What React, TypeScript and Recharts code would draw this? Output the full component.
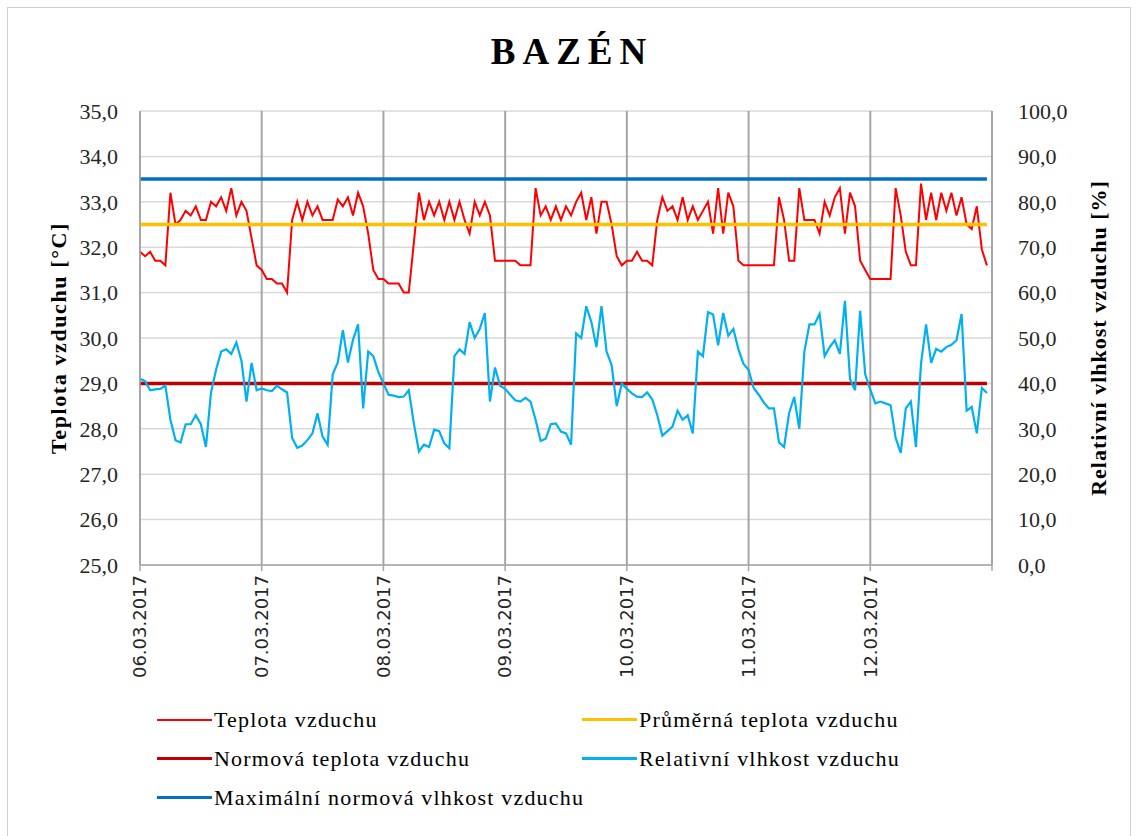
import { CartesianGrid, ComposedChart, Label, Line, XAxis, YAxis } from "recharts";

const dayLabels = ["06.03.2017", "07.03.2017", "08.03.2017", "09.03.2017", "10.03.2017", "11.03.2017", "12.03.2017"];

// hourly air temperature [°C], one array per day
const tempDay1 = [31.9, 31.8, 31.9, 31.7, 31.7, 31.6, 33.2, 32.5, 32.6, 32.8, 32.7, 32.9, 32.6, 32.6, 33.0, 32.9, 33.1, 32.8, 33.3, 32.7, 33.0, 32.8, 32.2, 31.6];
const tempDay2 = [31.5, 31.3, 31.3, 31.2, 31.2, 31.0, 32.6, 33.0, 32.6, 33.0, 32.7, 32.9, 32.6, 32.6, 32.6, 33.05, 32.9, 33.1, 32.7, 33.2, 32.9, 32.3, 31.5, 31.3];
const tempDay3 = [31.3, 31.2, 31.2, 31.2, 31.0, 31.0, 32.1, 33.2, 32.6, 33.0, 32.7, 33.0, 32.6, 33.0, 32.6, 33.0, 32.6, 32.3, 33.0, 32.7, 33.0, 32.7, 31.7, 31.7];
const tempDay4 = [31.7, 31.7, 31.7, 31.6, 31.6, 31.6, 33.3, 32.7, 32.9, 32.6, 32.9, 32.6, 32.9, 32.7, 33.0, 33.2, 32.6, 33.1, 32.3, 33.0, 33.0, 32.5, 31.8, 31.6];
const tempDay5 = [31.7, 31.7, 31.9, 31.7, 31.7, 31.6, 32.6, 33.1, 32.8, 32.9, 32.6, 33.1, 32.6, 32.9, 32.6, 32.8, 33.0, 32.3, 33.3, 32.3, 33.2, 32.9, 31.7, 31.6];
const tempDay6 = [31.6, 31.6, 31.6, 31.6, 31.6, 31.6, 33.1, 32.6, 31.7, 31.7, 33.3, 32.6, 32.6, 32.6, 32.3, 33.0, 32.7, 33.1, 33.3, 32.3, 33.2, 32.9, 31.7, 31.5];
const tempDay7 = [31.3, 31.3, 31.3, 31.3, 31.3, 33.3, 32.7, 31.9, 31.6, 31.6, 33.4, 32.6, 33.2, 32.6, 33.2, 32.8, 33.2, 32.7, 33.1, 32.5, 32.4, 32.9, 31.95, 31.6];

// hourly relative humidity [%]
const humDay1 = [41, 40.5, 38.5, 38.7, 38.8, 39.5, 32, 27.5, 27, 31, 31, 33, 31, 26, 38, 43, 47, 47.5, 46.5, 49, 45, 36, 44.5, 38.5];
const humDay2 = [38.9, 38.5, 38.3, 39.5, 38.7, 38.0, 28, 25.8, 26.3, 27.5, 29.0, 33.4, 28.3, 26.5, 42, 44.6, 51.7, 44.6, 49.6, 53, 34.5, 47, 46, 42.5];
const humDay3 = [40, 37.5, 37.3, 37, 37.1, 38.5, 31.2, 25, 26.5, 26, 29.8, 29.5, 26.8, 25.7, 46, 47.5, 46.5, 53.5, 50, 52, 55.5, 36, 43.5, 39.5];
const humDay4 = [38.8, 37.5, 36.3, 36, 36.8, 36, 32, 27.3, 27.8, 31, 31.2, 29.4, 29, 26.5, 51, 50, 57, 53.5, 48, 57, 47, 44, 35, 40];
const humDay5 = [38.8, 37.8, 37.1, 37, 38, 36.5, 33, 28.5, 29.5, 30.5, 34, 32, 33, 29, 47, 46, 55.7, 55.2, 48.4, 55.5, 50.5, 52, 47.5, 44.3];
const humDay6 = [43, 39, 37.5, 35.8, 34.5, 34.5, 27, 26, 33.5, 37, 30, 47, 53, 53, 55.3, 46, 48, 49.5, 46.5, 58.2, 41, 38.5, 56, 42];
const humDay7 = [38.6, 35.6, 36, 35.6, 35.2, 28, 24.7, 34.5, 36, 26, 44.3, 53, 44.5, 47.6, 47, 48, 48.5, 49.5, 55.3, 34, 34.8, 29, 39, 37.9];

const avgTemp = 32.5;
const normTemp = 29.0;
const maxNormHum = 85;

const tempTicks = [25, 26, 27, 28, 29, 30, 31, 32, 33, 34, 35];
const humTicks = [0, 10, 20, 30, 40, 50, 60, 70, 80, 90, 100];
const dayTicks = [0, 24, 48, 72, 96, 120, 144, 168];

const temps = [tempDay1, tempDay2, tempDay3, tempDay4, tempDay5, tempDay6, tempDay7].flat();
const hums = [humDay1, humDay2, humDay3, humDay4, humDay5, humDay6, humDay7].flat();

const data = temps.map((temp, i) => ({
  hour: i,
  temp,
  avg: avgTemp,
  norm: normTemp,
  hum: hums[i],
  maxHum: maxNormHum,
}));

const series = [
  { key: "temp", name: "Teplota vzduchu", color: "#ff0000", width: 2 },
  { key: "avg", name: "Průměrná teplota vzduchu", color: "#ffc000", width: 3.5 },
  { key: "norm", name: "Normová teplota vzduchu", color: "#c00000", width: 3.5 },
  { key: "hum", name: "Relativní vlhkost vzduchu", color: "#00b0f0", width: 2.2 },
  { key: "maxHum", name: "Maximální normová vlhkost vzduchu", color: "#0070c0", width: 3.5 },
];

const serif = "'Liberation Serif', 'Times New Roman', serif";
const fmt = (v: number) => v.toFixed(1).replace(".", ",");

function DateTick({ x, y, payload }: any) {
  const label = dayLabels[payload.value / 24];
  if (!label) return null;
  return (
    <text
      x={x}
      y={y}
      dx={-2}
      dy="0.35em"
      transform={`rotate(-90, ${x}, ${y})`}
      textAnchor="end"
      fontFamily="'DejaVu Sans', Verdana, sans-serif"
      fontSize={18}
      fill="#262626"
    >
      {label}
    </text>
  );
}

function AxisTitle({ viewBox, offsetX, text, spacing }: any) {
  const x = viewBox.x + offsetX;
  const y = viewBox.y + viewBox.height / 2;
  return (
    <text x={x} y={y} transform={`rotate(-90, ${x}, ${y})`} textAnchor="middle" dominantBaseline="central"
      fontFamily={serif} fontWeight="bold" fontSize={22} letterSpacing={spacing} fill="#000">
      {text}
    </text>
  );
}

export default function App() {
  return (
    <div style={{ position: "absolute", left: 0, top: 0, width: 1136, height: 836, background: "#fff", overflow: "hidden" }}>
      <div style={{ position: "absolute", left: 7, top: 7, width: 1122, height: 860, border: "1.5px solid #d0d0d0" }} />
      <div style={{ position: "absolute", top: 30, left: 4, width: 1136, textAlign: "center", fontFamily: serif, fontWeight: "bold", fontSize: 37, letterSpacing: 7, color: "#000" }}>
        BAZÉN
      </div>
      <ComposedChart width={1136} height={836} data={data} margin={{ top: 111, right: 0, bottom: 141, left: 0 }}>
        <CartesianGrid yAxisId="left" vertical={false} stroke="#d9d9d9" strokeWidth={1.5} />
        <CartesianGrid yAxisId="left" horizontal={false} stroke="#a6a6a6" strokeWidth={2} />
        <XAxis
          dataKey="hour"
          type="number"
          domain={[0, 168]}
          ticks={dayTicks}
          interval={0}
          height={130}
          stroke="#a6a6a6"
          strokeWidth={1.5}
          tickSize={6}
          tick={<DateTick />}
        />
        <YAxis
          yAxisId="left"
          domain={[25, 35]}
          ticks={tempTicks}
          interval={0}
          width={140}
          stroke="#a6a6a6"
          strokeWidth={1.5}
          tickLine={false}
          tickSize={0}
          tickMargin={22}
          tickFormatter={fmt}
          tick={{ fontFamily: serif, fontSize: 22, fill: "#262626" }}
        >
          <Label content={(p: any) => <AxisTitle viewBox={p.viewBox} offsetX={58} spacing={1.6} text="Teplota vzduchu  [°C]" />} />
        </YAxis>
        <YAxis
          yAxisId="right"
          orientation="right"
          domain={[0, 100]}
          ticks={humTicks}
          interval={0}
          width={144}
          stroke="#a6a6a6"
          strokeWidth={1.5}
          tickLine={false}
          tickSize={0}
          tickMargin={26}
          tickFormatter={fmt}
          tick={{ fontFamily: serif, fontSize: 22, fill: "#262626", textAnchor: "start" }}
        >
          <Label content={(p: any) => <AxisTitle viewBox={p.viewBox} offsetX={106} spacing={1} text="Relativní vlhkost vzduchu  [%]" />} />
        </YAxis>
        {series.map((s) => (
          <Line
            key={s.key}
            yAxisId={s.key === "hum" || s.key === "maxHum" ? "right" : "left"}
            dataKey={s.key}
            name={s.name}
            stroke={s.color}
            strokeWidth={s.width}
            dot={false}
            activeDot={false}
            type="linear"
            isAnimationActive={false}
          />
        ))}
      </ComposedChart>
      <div style={{ position: "absolute", left: 157, top: 706, display: "grid", gridTemplateColumns: "425px 420px", rowGap: 12, fontFamily: serif, fontSize: 22, letterSpacing: 1.2, color: "#000", whiteSpace: "nowrap" }}>
        {series.map((s) => (
          <div key={s.key} style={{ display: "flex", alignItems: "center", height: 27 }}>
            <span style={{ display: "inline-block", width: 55, height: s.width, background: s.color, marginRight: 2, flexShrink: 0 }} />
            <span>{s.name}</span>
          </div>
        ))}
      </div>
    </div>
  );
}
